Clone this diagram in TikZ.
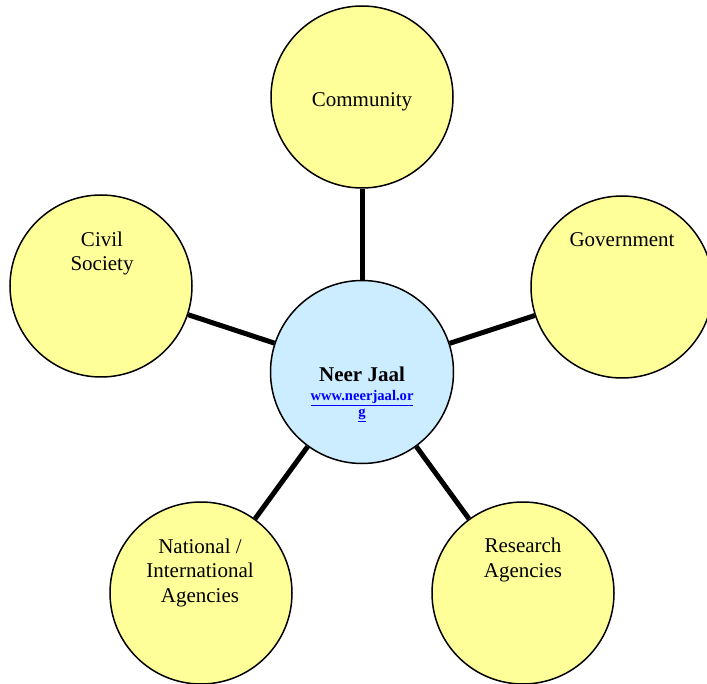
\documentclass[tikz,border=0pt]{standalone}
\usepackage{fontspec}
\setmainfont{Liberation Serif}
\definecolor{yel}{HTML}{FFFF99}
\definecolor{blu}{HTML}{CCECFF}
\definecolor{lnk}{HTML}{0000FF}
\begin{document}
\begin{tikzpicture}[x=1pt,y=-1pt,
  disk/.style={circle,draw=black,line width=1.5pt,minimum size=182pt,inner sep=0pt,fill=yel},
  hub/.style={disk,fill=blu,minimum size=183pt},
  lbl/.style={align=center,font=\fontsize{21}{24.5}\selectfont,anchor=base,inner sep=0pt},
  spoke/.style={line width=5pt}]
\useasboundingbox (0,0) rectangle (707,684);
\node[hub] (hub) at (362,372) {};
\node[disk] (comm) at (362,97) {};
\node[disk] (gov) at (622,287) {};
\node[disk] (civ) at (101,286) {};
\node[disk] (nat) at (201,593) {};
\node[disk] (res) at (523,593) {};
\draw[spoke] (hub) -- (comm);
\draw[spoke] (hub) -- (gov);
\draw[spoke] (hub) -- (civ);
\draw[spoke] (hub) -- (nat);
\draw[spoke] (hub) -- (res);
\node[lbl] (tcomm) at (362,107) {Community};
\node[lbl] (tgov) at (622,247) {Government};
\node[lbl] (tciv) at (102,271) {Civil\\Society};
\node[lbl] (tnat) at (200,602) {National /\\International\\Agencies};
\node[lbl] (tres) at (523,577) {Research\\Agencies};
\node[anchor=base,inner sep=0pt,font=\fontsize{21}{24}\selectfont\bfseries] (thub) at (362,382) {Neer Jaal};
\node[anchor=base,inner sep=0pt,align=center,text=lnk,font=\fontsize{14.6}{16}\selectfont\bfseries] (url) at (362,417) {\underline{www.neerjaal.or}\\\underline{g}};
\end{tikzpicture}
\end{document}
